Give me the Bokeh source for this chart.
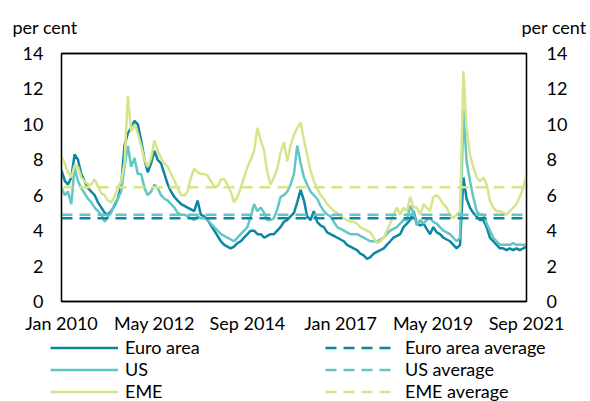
import pandas as pd
from bokeh.plotting import figure
from bokeh.layouts import column
from bokeh.models import (Range1d, LinearAxis, FixedTicker, DatetimeTickFormatter,
                          Legend, LegendItem)
from bokeh.core.properties import value
from bokeh.embed import file_html
from bokeh.resources import INLINE

# ---------------- data (monthly readings, per cent) ----------------
start_month = "2010-01-01"
end_month = "2021-09-01"

euro_area = [
    7.4, 6.8, 6.6, 7.0, 8.3, 8.0, 7.2, 6.8, 6.4, 6.2,
    6.0, 5.6, 5.3, 5.0, 4.9, 5.1, 5.4, 5.8, 6.5, 8.8,
    9.5, 9.8, 10.2, 10.0, 9.1, 8.0, 7.3, 7.8, 8.5, 8.0,
    7.8, 7.2, 6.6, 6.2, 5.9, 5.7, 5.5, 5.4, 5.3, 5.2,
    5.1, 5.7, 4.9, 4.8, 4.6, 4.3, 4.0, 3.7, 3.4, 3.2,
    3.1, 3.0, 3.1, 3.3, 3.4, 3.6, 3.8, 4.0, 4.0, 3.8,
    3.8, 3.6, 3.7, 3.8, 3.8, 4.0, 4.2, 4.5, 4.6, 4.8,
    5.0, 5.6, 6.3, 5.7, 4.8, 4.6, 5.1, 4.5, 4.3, 4.2,
    3.9, 3.8, 3.7, 3.6, 3.5, 3.4, 3.2, 3.1, 3.0, 2.9,
    2.7, 2.6, 2.4, 2.5, 2.7, 2.8, 2.9, 3.0, 3.2, 3.4,
    3.6, 3.7, 3.8, 4.2, 4.4, 4.6, 5.1, 4.4, 4.3, 4.4,
    4.1, 3.8, 4.2, 3.9, 3.8, 3.6, 3.5, 3.4, 3.2, 3.0,
    3.2, 7.0, 5.8, 5.3, 5.0, 4.8, 4.6, 4.6, 4.2, 3.6,
    3.4, 3.2, 3.0, 3.0, 2.9, 3.0, 2.9, 3.0, 2.9, 3.0, 3.1,
]
us = [
    6.4, 6.0, 6.2, 5.5, 7.6, 6.8, 6.4, 6.1, 5.8, 5.6,
    5.3, 5.1, 4.9, 4.5, 4.8, 5.0, 5.5, 5.8, 6.2, 7.6,
    8.8, 7.6, 8.1, 7.2, 7.2, 6.4, 6.0, 6.2, 6.6, 6.4,
    6.0, 5.8, 5.7, 5.5, 5.3, 5.0, 4.9, 4.9, 4.8, 4.7,
    4.6, 4.8, 4.7, 4.7, 4.6, 4.4, 4.2, 4.0, 3.8, 3.7,
    3.6, 3.5, 3.4, 3.6, 3.8, 4.0, 4.2, 4.8, 5.5, 5.1,
    5.3, 5.0, 4.6, 4.6, 4.7, 5.2, 5.9, 6.0, 6.2, 6.6,
    7.2, 8.8, 7.8, 7.0, 6.6, 6.2, 6.0, 5.8, 5.4, 5.1,
    4.9, 4.8, 4.5, 4.2, 4.1, 4.0, 3.9, 3.8, 3.8, 3.8,
    3.7, 3.6, 3.5, 3.4, 3.4, 3.4, 3.5, 3.6, 3.8, 4.0,
    4.1, 4.2, 4.4, 4.6, 4.6, 5.4, 5.0, 4.3, 4.6, 4.4,
    4.6, 4.7, 4.5, 4.4, 4.2, 4.0, 3.9, 3.8, 3.6, 3.4,
    3.6, 10.8, 7.9, 6.8, 5.9, 5.1, 4.9, 4.9, 4.4, 4.0,
    3.6, 3.4, 3.2, 3.2, 3.2, 3.2, 3.3, 3.2, 3.2, 3.2, 3.2,
]
eme = [
    8.2, 7.8, 7.3, 7.0, 7.7, 7.6, 7.0, 6.8, 6.6, 6.6,
    6.9, 6.5, 6.1, 6.0, 5.7, 5.6, 5.9, 6.4, 6.8, 7.8,
    11.6, 9.6, 10.0, 9.5, 8.8, 8.0, 7.6, 8.1, 9.1, 8.5,
    8.1, 7.8, 7.6, 7.2, 6.8, 6.4, 6.0, 6.0, 6.2, 7.0,
    7.5, 7.3, 7.2, 7.2, 7.1, 6.8, 6.5, 6.5, 6.9, 6.9,
    6.6, 6.2, 5.6, 5.9, 6.4, 7.0, 7.6, 8.0, 8.5, 9.8,
    9.1, 8.5, 7.3, 6.6, 7.0, 7.5, 8.4, 9.0, 7.9, 8.8,
    9.4, 9.8, 10.1, 9.1, 8.3, 7.4, 6.8, 6.4, 6.0, 5.8,
    5.5, 5.3, 5.1, 5.0, 4.8, 4.7, 4.6, 4.5, 4.5, 4.4,
    4.2, 4.1, 4.0, 3.9, 3.6, 3.3, 3.4, 3.6, 4.0, 4.4,
    4.9, 5.3, 4.9, 5.3, 5.1, 5.9, 5.3, 5.3, 4.9, 5.5,
    5.3, 5.1, 5.9, 6.0, 5.8, 5.5, 5.3, 4.9, 4.7, 4.9,
    5.1, 13.0, 9.8, 8.3, 7.6, 7.0, 6.8, 7.0, 6.6, 5.7,
    5.3, 5.1, 5.1, 5.0, 4.9, 5.1, 5.3, 5.5, 5.9, 6.4, 7.2,
]
euro_area_average = 4.7
us_average = 4.9
eme_average = 6.45

series_names = ["Euro area", "US", "EME"]
average_names = ["Euro area average", "US average", "EME average"]
unit_label = "per cent"

tick_dates = ["2010-01-01", "2012-05-01", "2014-09-01", "2017-01-01", "2019-05-01", "2021-09-01"]
tick_labels = ["Jan 2010", "May 2012", "Sep 2014", "Jan 2017", "May 2019", "Sep 2021"]
y_ticks = [0, 2, 4, 6, 8, 10, 12, 14]

# ---------------- styling ----------------
colors = ["#0b87a3", "#62c6c4", "#d6e48b"]
FONT = "Lato"
FS = "18px"
W = 590
H_HEAD, H_MAIN, H_FOOT = 40, 296, 65
DASH = "11 7"
LW = 2.5


def blank_fig(h):
    f = figure(width=W, height=h, x_range=Range1d(0, W), y_range=Range1d(0, h),
               output_backend="svg", toolbar_location=None,
               x_axis_location=None, y_axis_location=None,
               min_border_left=0, min_border_right=0,
               min_border_top=0, min_border_bottom=0)
    f.frame_align = False
    f.xgrid.visible = False
    f.ygrid.visible = False
    f.outline_line_color = None
    f.background_fill_color = "white"
    f.border_fill_color = "white"
    return f


# ---------------- header with unit labels ----------------
head = blank_fig(H_HEAD)
head.text(x=[12, 521], y=[14, 14], text=[unit_label, unit_label],
          text_font=value(FONT), text_font_size=FS, text_color="black",
          text_align="left", text_baseline="alphabetic")

# ---------------- main chart ----------------
dates = pd.date_range(start_month, end_month, freq="MS")
t0, t1 = pd.Timestamp(start_month), pd.Timestamp(end_month)

p = figure(width=W, height=H_MAIN, x_axis_type="datetime",
           x_range=Range1d(t0, t1), y_range=Range1d(0, 14),
           output_backend="svg", toolbar_location=None,
           min_border_left=61, min_border_right=64,
           min_border_top=13, min_border_bottom=35)
p.frame_align = False
p.xgrid.visible = False
p.ygrid.visible = False
p.outline_line_color = "black"
p.outline_line_width = 1.3
p.background_fill_color = "white"
p.border_fill_color = "white"

for vals, c in zip([euro_area, us, eme], colors):
    p.line(dates, vals, line_color=c, line_width=LW)

for avg, c in zip([euro_area_average, us_average, eme_average], colors):
    p.line([t0, t1], [avg, avg], line_color=c, line_width=LW, line_dash=DASH)

tick_ms = [int(pd.Timestamp(d).value // 10**6) for d in tick_dates]
xa = p.xaxis[0]
xa.ticker = FixedTicker(ticks=tick_ms)
xa.formatter = DatetimeTickFormatter(days="%b %Y", months="%b %Y", years="%b %Y")
xa.major_label_overrides = {k: v for k, v in zip(tick_ms, tick_labels)}
xa.major_label_standoff = 10

ya = p.yaxis[0]
ya.ticker = FixedTicker(ticks=y_ticks)
ya.major_label_standoff = 18

ra = LinearAxis(ticker=FixedTicker(ticks=y_ticks), major_label_standoff=20)
p.add_layout(ra, "right")

ta = LinearAxis(ticker=FixedTicker(ticks=[]), major_label_text_font_size="0px",
                major_label_standoff=0)
p.add_layout(ta, "above")

for ax in [xa, ya, ra, ta]:
    ax.major_tick_line_color = None
    ax.minor_tick_line_color = None
    ax.major_tick_out = 0
    ax.major_tick_in = 0
    ax.minor_tick_out = 0
    ax.minor_tick_in = 0
    ax.axis_line_color = "black"
    ax.axis_line_width = 1.3
    ax.major_label_text_font = FONT
    ax.major_label_text_color = "black"
for ax in [xa, ya, ra]:
    ax.major_label_text_font_size = FS

# ---------------- footer with legends ----------------
foot = blank_fig(H_FOOT)
nan = float("nan")
ser_r = [foot.line(x=[nan], y=[nan], line_color=c, line_width=LW) for c in colors]
avg_r = [foot.line(x=[nan], y=[nan], line_color=c, line_width=LW, line_dash=DASH)
         for c in colors]


def make_legend(names, rends, loc, standoff):
    return Legend(items=[LegendItem(label=n, renderers=[r]) for n, r in zip(names, rends)],
                  location=loc, orientation="vertical",
                  padding=0, margin=0, spacing=0,
                  glyph_width=68, glyph_height=21, label_height=21,
                  label_standoff=standoff,
                  border_line_alpha=0, background_fill_alpha=0,
                  label_text_font=FONT, label_text_font_size=FS,
                  label_text_color="black")


foot.add_layout(make_legend(series_names, ser_r, (50, -1), 7))
foot.add_layout(make_legend(average_names, avg_r, (325, -1), 12))

layout = column(head, p, foot, spacing=0)
open("out.html", "w").write(file_html(layout, INLINE))
